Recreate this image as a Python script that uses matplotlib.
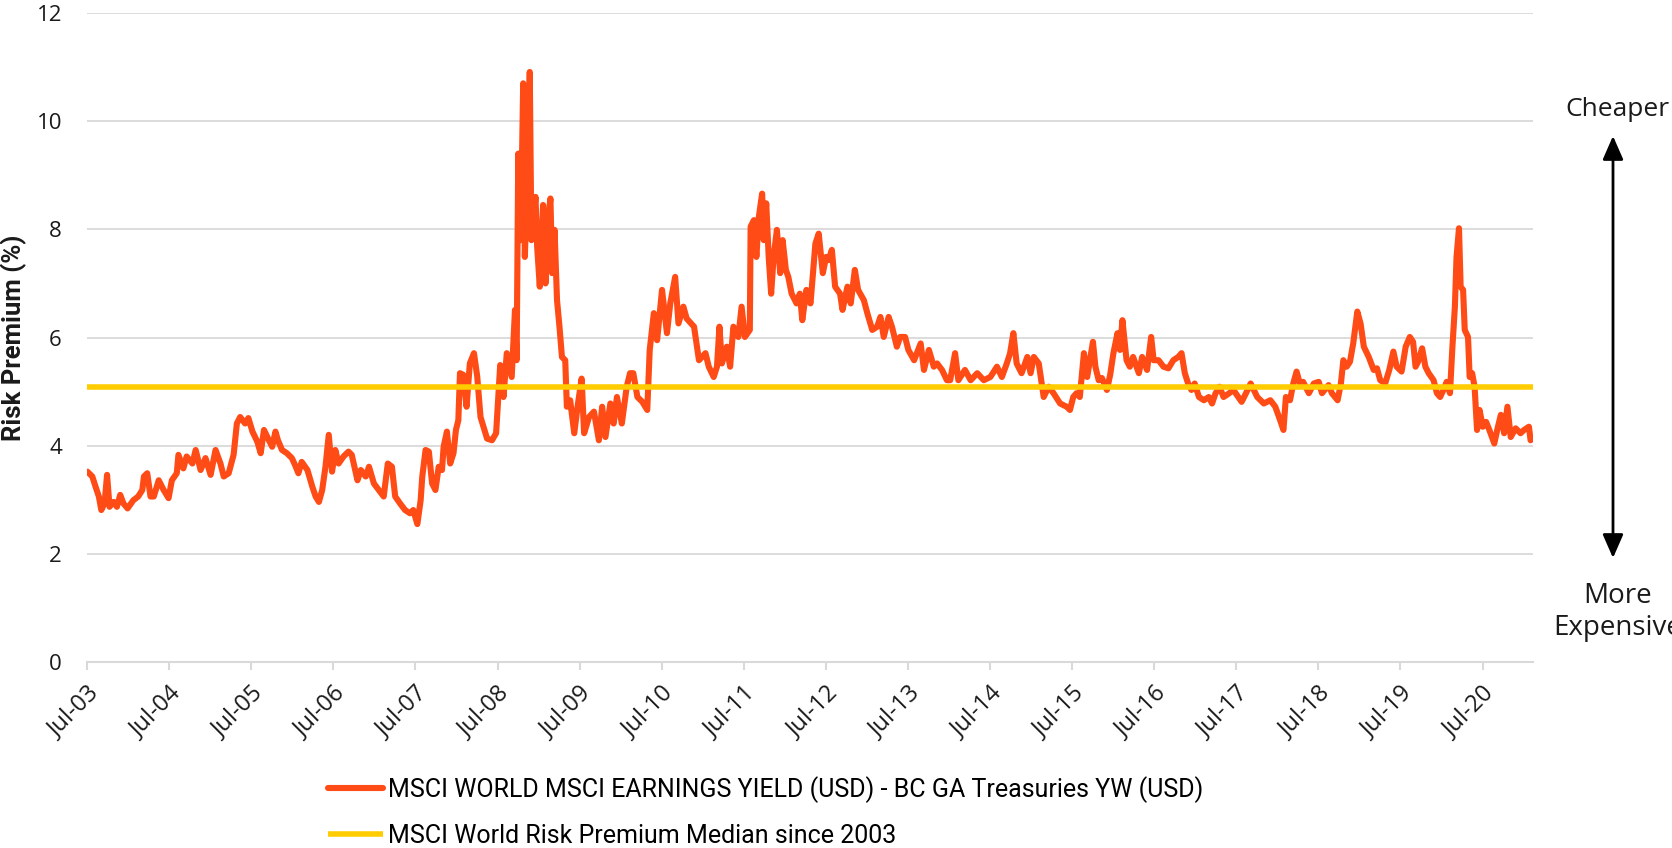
import pandas as pd
import matplotlib
matplotlib.use('Agg')
import matplotlib.pyplot as plt
import matplotlib.dates as mdates

# risk premium (%), x as decimal years
years = [
    2003.50, 2003.56, 2003.60, 2003.64, 2003.67, 2003.71, 2003.74, 2003.77, 2003.82, 2003.86,
    2003.90, 2003.94, 2003.99, 2004.06, 2004.12, 2004.17, 2004.19, 2004.23, 2004.27, 2004.31,
    2004.37, 2004.43, 2004.49, 2004.53, 2004.59, 2004.61, 2004.67, 2004.71, 2004.78, 2004.82,
    2004.88, 2004.94, 2005.00, 2005.06, 2005.12, 2005.16, 2005.22, 2005.28, 2005.32, 2005.36,
    2005.42, 2005.46, 2005.51, 2005.57, 2005.61, 2005.65, 2005.71, 2005.75, 2005.79, 2005.82,
    2005.87, 2005.93, 2005.99, 2006.03, 2006.07, 2006.11, 2006.18, 2006.24, 2006.28, 2006.32,
    2006.36, 2006.40, 2006.44, 2006.48, 2006.52, 2006.56, 2006.62, 2006.68, 2006.72, 2006.79,
    2006.83, 2006.89, 2006.93, 2006.99, 2007.05, 2007.11, 2007.16, 2007.21, 2007.25, 2007.31,
    2007.37, 2007.43, 2007.47, 2007.52, 2007.56, 2007.58, 2007.62, 2007.66, 2007.70, 2007.74,
    2007.78, 2007.82, 2007.84, 2007.88, 2007.92, 2007.96, 2007.99, 2008.02, 2008.04, 2008.08,
    2008.12, 2008.16, 2008.21, 2008.25, 2008.29, 2008.37, 2008.43, 2008.48, 2008.53, 2008.57,
    2008.61, 2008.67, 2008.71, 2008.73, 2008.75, 2008.78, 2008.81, 2008.83, 2008.86, 2008.89,
    2008.91, 2008.96, 2008.98, 2009.01, 2009.05, 2009.08, 2009.10, 2009.14, 2009.16, 2009.19,
    2009.22, 2009.25, 2009.28, 2009.32, 2009.34, 2009.38, 2009.43, 2009.47, 2009.52, 2009.55,
    2009.61, 2009.67, 2009.73, 2009.77, 2009.81, 2009.87, 2009.91, 2009.95, 2010.01, 2010.07,
    2010.11, 2010.15, 2010.20, 2010.26, 2010.32, 2010.35, 2010.40, 2010.44, 2010.50, 2010.56,
    2010.60, 2010.66, 2010.70, 2010.76, 2010.80, 2010.89, 2010.95, 2011.03, 2011.07, 2011.13,
    2011.17, 2011.20, 2011.23, 2011.29, 2011.33, 2011.37, 2011.43, 2011.47, 2011.51, 2011.57,
    2011.58, 2011.62, 2011.65, 2011.68, 2011.72, 2011.74, 2011.77, 2011.80, 2011.83, 2011.86,
    2011.90, 2011.94, 2011.97, 2012.01, 2012.04, 2012.08, 2012.14, 2012.18, 2012.21, 2012.26,
    2012.31, 2012.37, 2012.41, 2012.46, 2012.50, 2012.53, 2012.57, 2012.61, 2012.67, 2012.70,
    2012.76, 2012.80, 2012.85, 2012.89, 2012.96, 2013.00, 2013.06, 2013.12, 2013.16, 2013.20,
    2013.26, 2013.30, 2013.36, 2013.40, 2013.46, 2013.50, 2013.57, 2013.65, 2013.69, 2013.75,
    2013.81, 2013.85, 2013.91, 2013.97, 2014.01, 2014.07, 2014.11, 2014.19, 2014.26, 2014.34,
    2014.42, 2014.50, 2014.58, 2014.64, 2014.70, 2014.74, 2014.78, 2014.82, 2014.88, 2014.95,
    2014.99, 2015.03, 2015.09, 2015.15, 2015.21, 2015.27, 2015.35, 2015.43, 2015.47, 2015.51,
    2015.55, 2015.59, 2015.64, 2015.68, 2015.72, 2015.75, 2015.78, 2015.82, 2015.86, 2015.92,
    2015.96, 2016.00, 2016.05, 2016.08, 2016.11, 2016.16, 2016.20, 2016.24, 2016.31, 2016.35,
    2016.41, 2016.46, 2016.49, 2016.55, 2016.61, 2016.67, 2016.73, 2016.79, 2016.83, 2016.87,
    2016.91, 2016.95, 2016.99, 2017.04, 2017.10, 2017.16, 2017.20, 2017.24, 2017.29, 2017.34,
    2017.40, 2017.46, 2017.52, 2017.56, 2017.61, 2017.67, 2017.75, 2017.83, 2017.91, 2017.97,
    2018.03, 2018.07, 2018.10, 2018.15, 2018.19, 2018.23, 2018.27, 2018.31, 2018.38, 2018.44,
    2018.50, 2018.54, 2018.62, 2018.66, 2018.73, 2018.77, 2018.80, 2018.84, 2018.88, 2018.92,
    2018.97, 2019.01, 2019.05, 2019.11, 2019.17, 2019.21, 2019.25, 2019.31, 2019.36, 2019.41,
    2019.45, 2019.51, 2019.56, 2019.61, 2019.65, 2019.68, 2019.71, 2019.76, 2019.80, 2019.84,
    2019.90, 2019.94, 2019.98, 2020.02, 2020.06, 2020.10, 2020.13, 2020.16, 2020.18, 2020.21,
    2020.23, 2020.26, 2020.28, 2020.32, 2020.34, 2020.37, 2020.40, 2020.43, 2020.46, 2020.50,
    2020.54, 2020.58, 2020.64, 2020.68, 2020.72, 2020.76, 2020.80, 2020.84, 2020.90, 2020.96,
    2021.00, 2021.06, 2021.08,
]
premium = [
    3.52, 3.43, 3.24, 3.06, 2.81, 2.94, 3.46, 2.87, 2.96, 2.87,
    3.09, 2.93, 2.84, 2.99, 3.06, 3.18, 3.43, 3.49, 3.06, 3.06,
    3.36, 3.18, 3.03, 3.36, 3.49, 3.83, 3.58, 3.80, 3.67, 3.92,
    3.55, 3.77, 3.46, 3.92, 3.67, 3.43, 3.49, 3.83, 4.41, 4.53,
    4.41, 4.51, 4.26, 4.07, 3.86, 4.29, 4.10, 3.98, 4.26, 4.10,
    3.92, 3.86, 3.77, 3.64, 3.49, 3.70, 3.55, 3.24, 3.06, 2.96,
    3.18, 3.61, 4.20, 3.52, 3.92, 3.67, 3.80, 3.89, 3.83, 3.36,
    3.55, 3.43, 3.61, 3.30, 3.18, 3.06, 3.67, 3.61, 3.06, 2.93,
    2.81, 2.75, 2.81, 2.55, 2.99, 3.43, 3.92, 3.89, 3.30, 3.18,
    3.61, 3.55, 3.98, 4.26, 3.67, 3.86, 4.29, 4.47, 5.34, 5.31,
    4.72, 5.52, 5.71, 5.28, 4.53, 4.13, 4.10, 4.23, 5.49, 4.90,
    5.71, 5.27, 6.51, 5.58, 9.40, 7.80, 10.70, 7.49, 8.91, 10.91,
    7.80, 8.60, 7.68, 6.94, 8.45, 7.00, 8.05, 8.57, 7.19, 7.99,
    6.69, 6.20, 5.64, 5.58, 4.72, 4.84, 4.23, 4.72, 5.24, 4.23,
    4.53, 4.63, 4.10, 4.72, 4.16, 4.78, 4.41, 4.90, 4.41, 5.09,
    5.34, 5.34, 4.90, 4.81, 4.66, 5.77, 6.45, 5.95, 6.88, 6.08,
    6.63, 7.12, 6.26, 6.57, 6.35, 6.20, 5.58, 5.71, 5.46, 5.27,
    5.46, 6.20, 5.52, 5.83, 5.46, 6.20, 6.01, 6.57, 6.01, 6.14,
    8.05, 8.17, 7.49, 8.23, 8.66, 7.80, 8.48, 7.49, 6.81, 7.49,
    7.99, 7.19, 7.80, 7.25, 7.12, 6.81, 6.63, 6.81, 6.32, 6.88,
    6.63, 7.74, 7.92, 7.19, 7.49, 7.43, 7.62, 6.94, 6.81, 6.51,
    6.94, 6.63, 7.25, 6.88, 6.69, 6.45, 6.14, 6.20, 6.38, 6.01,
    6.38, 6.20, 5.83, 6.01, 6.01, 5.77, 5.58, 5.89, 5.40, 5.77,
    5.46, 5.52, 5.40, 5.21, 5.21, 5.71, 5.21, 5.40, 5.21, 5.34,
    5.21, 5.27, 5.46, 5.27, 5.52, 5.71, 6.08, 5.52, 5.34, 5.64,
    5.34, 5.64, 5.52, 4.90, 5.09, 4.97, 4.78, 4.72, 4.66, 4.90,
    4.97, 4.90, 5.71, 5.27, 5.64, 5.92, 5.46, 5.21, 5.25, 5.03,
    5.31, 5.71, 6.08, 5.77, 6.32, 5.58, 5.46, 5.64, 5.34, 5.64,
    5.40, 6.01, 5.58, 5.58, 5.46, 5.43, 5.58, 5.64, 5.71, 5.34,
    5.15, 5.03, 5.15, 4.90, 4.84, 4.90, 4.78, 4.96, 5.09, 4.90,
    4.96, 5.03, 4.90, 4.81, 4.96, 5.15, 4.90, 4.78, 4.84, 4.72,
    4.47, 4.29, 4.90, 4.84, 5.15, 5.37, 5.15, 5.18, 4.97, 5.15,
    5.18, 4.97, 5.12, 4.97, 4.84, 5.15, 5.58, 5.46, 5.55, 5.89,
    6.48, 6.26, 5.83, 5.64, 5.40, 5.43, 5.21, 5.15, 5.40, 5.74,
    5.46, 5.37, 5.83, 6.01, 5.92, 5.46, 5.55, 5.80, 5.46, 5.34,
    5.21, 4.97, 4.90, 5.03, 5.18, 4.97, 5.83, 6.57, 7.49, 8.02,
    6.94, 6.88, 6.14, 6.01, 5.27, 5.34, 5.09, 4.29, 4.66, 4.35,
    4.44, 4.29, 4.04, 4.32, 4.57, 4.23, 4.72, 4.16, 4.32, 4.23,
    4.29, 4.35, 4.10,
]
median_premium = 5.08
axis_start = "2003-07-01"
axis_end = "2021-02-10"
y_ticks = [0, 2, 4, 6, 8, 10, 12]

series_label = "MSCI WORLD MSCI EARNINGS YIELD (USD) - BC GA Treasuries YW (USD)"
median_label = "MSCI World Risk Premium Median since 2003"

ORANGE = "#FF4B16"
YELLOW = "#FFCC00"
GRID = "#D9D9D9"
TEXT = "#1A1A1A"


def to_dates(yrs):
    out = []
    for y in yrs:
        yr = int(y)
        out.append(pd.Timestamp(yr, 1, 1) + pd.Timedelta(days=(y - yr) * 365.25))
    return out


dates = to_dates(years)

plt.rcParams['font.family'] = ['Open Sans', 'DejaVu Sans']

W, H = 1672, 848
fig = plt.figure(figsize=(W / 100, H / 100), dpi=100)
ax = fig.add_axes([87 / W, 1 - 662 / H, (1533 - 87) / W, (662 - 13) / H])

series_line, = ax.plot(dates, premium, color=ORANGE, lw=4.4, solid_joinstyle='round',
                       solid_capstyle='round', zorder=3, label=series_label)
median_line = ax.axhline(median_premium, color=YELLOW, lw=4.0, solid_capstyle='butt',
                         zorder=4, label=median_label)

ax.set_xlim(pd.Timestamp(axis_start), pd.Timestamp(axis_end))
ax.set_ylim(y_ticks[0], y_ticks[-1])
ax.set_yticks(y_ticks)
ax.yaxis.grid(True, color=GRID, lw=1.3)
ax.set_axisbelow(True)

ax.xaxis.set_major_locator(mdates.MonthLocator(bymonth=7, bymonthday=1))
ax.xaxis.set_major_formatter(mdates.DateFormatter('%b-%y'))

for side in ['left', 'right', 'top']:
    ax.spines[side].set_visible(False)
ax.spines['bottom'].set_color(GRID)
ax.spines['bottom'].set_linewidth(1.5)

ax.tick_params(axis='x', direction='out', length=6, width=1.5, color=GRID,
               labelsize=17, labelcolor=TEXT, pad=8)
ax.tick_params(axis='y', length=0, labelsize=16, labelcolor=TEXT, pad=18)
for lbl in ax.get_xticklabels():
    lbl.set_rotation(45)
    lbl.set_ha('right')
    lbl.set_rotation_mode('anchor')

fig.text(14 / W, 1 - 338 / H, "Risk Premium (%)", rotation=90, ha='center', va='center',
         fontsize=18.5, fontweight='bold', color=TEXT, family=['Roboto', 'DejaVu Sans'])

# valuation arrow on the right
ax.annotate('', xy=(1613 / W, 1 - 136 / H), xycoords='figure fraction',
            xytext=(1613 / W, 1 - 558 / H), textcoords='figure fraction',
            arrowprops=dict(arrowstyle='<|-|>,head_width=0.35,head_length=0.8',
                            color='black', lw=2, mutation_scale=18,
                            shrinkA=0, shrinkB=0))
fig.text(1617 / W, 1 - 110 / H, "Cheaper", ha='center', va='center', fontsize=19, color=TEXT)
fig.text(1618 / W, 1 - 612 / H, "More\nExpensive", ha='center', va='center', fontsize=20,
         color=TEXT, linespacing=1.15)

fig.legend(handles=[series_line, median_line], labels=[series_label, median_label],
           loc='center left', bbox_to_anchor=(328 / W, 1 - 812 / H), frameon=False,
           handlelength=2.2, handletextpad=0.2, borderpad=0,
           borderaxespad=0, labelspacing=0.82, prop={'family': ['Roboto', 'DejaVu Sans'], 'size': 18})

fig.savefig("out.png", dpi=100)
